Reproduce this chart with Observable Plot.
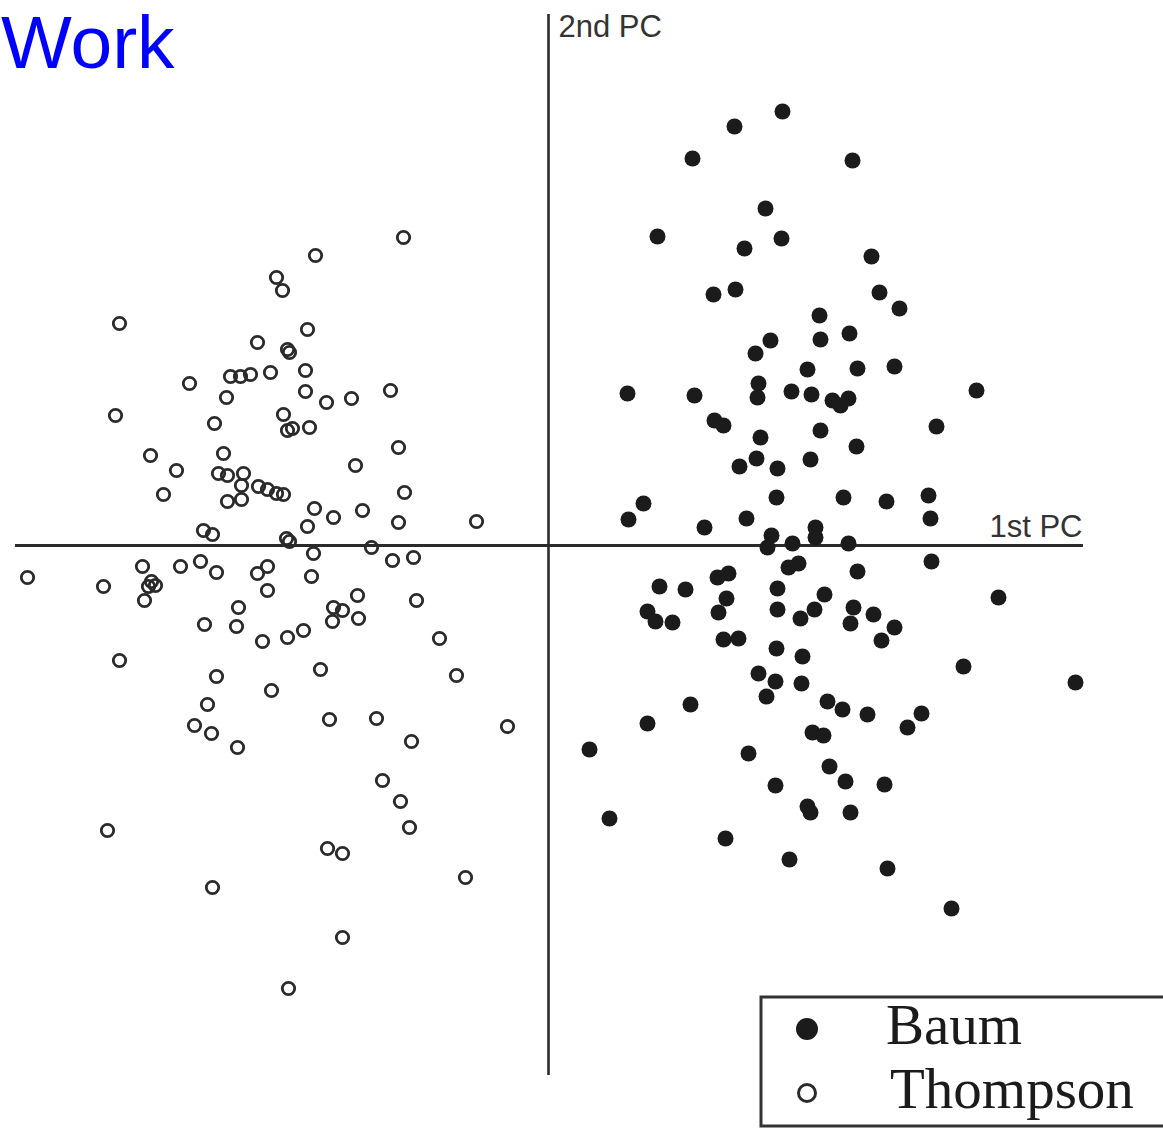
<!DOCTYPE html>
<html>
<head>
<meta charset="utf-8">
<script src="https://cdn.jsdelivr.net/npm/d3@7"></script>
<script src="https://cdn.jsdelivr.net/npm/@observablehq/plot@0.6"></script>
<style>
  html, body { margin: 0; padding: 0; background: #fff; overflow: hidden; }
  #wrap { position: relative; width: 1163px; height: 1128px; }
  #wrap > svg { position: absolute; left: 0; top: 0; }
</style>
</head>
<body>
<div id="wrap"></div>
<script>
// Scores on the first two principal components, one [PC1, PC2] pair per author sample.
const baum = [
  [2.34, 4.34], [1.86, 4.19], [1.44, 3.87], [3.04, 3.85], [2.17, 3.37], [1.09, 3.09],
  [2.33, 3.07], [1.96, 2.97], [3.23, 2.89], [1.65, 2.51], [1.87, 2.56], [3.31, 2.53],
  [3.51, 2.37], [2.71, 2.30], [2.22, 2.05], [2.07, 1.92], [2.72, 2.06], [3.01, 2.12],
  [2.59, 1.76], [3.09, 1.77], [3.46, 1.79], [0.79, 1.52], [1.46, 1.50], [2.10, 1.62],
  [2.09, 1.48], [2.43, 1.54], [2.63, 1.51], [2.84, 1.45], [2.92, 1.40], [3.00, 1.47],
  [4.28, 1.55], [1.66, 1.25], [1.75, 1.20], [2.12, 1.08], [2.72, 1.15], [3.88, 1.19],
  [3.08, 0.99], [1.91, 0.79], [2.08, 0.87], [2.29, 0.77], [2.62, 0.86], [0.95, 0.42],
  [0.80, 0.26], [1.56, 0.18], [1.98, 0.27], [2.28, 0.48], [2.95, 0.48], [3.38, 0.44],
  [3.80, 0.50], [3.82, 0.27], [2.23, 0.10], [2.19, -0.02], [2.44, 0.02], [2.67, 0.18],
  [2.67, 0.08], [3.00, 0.02], [3.83, -0.16], [2.50, -0.18], [2.40, -0.22], [3.09, -0.26],
  [1.69, -0.32], [1.80, -0.28], [1.11, -0.41], [1.37, -0.44], [1.78, -0.53], [2.29, -0.43],
  [2.76, -0.49], [4.50, -0.52], [1.70, -0.67], [0.99, -0.66], [1.07, -0.76], [1.24, -0.77],
  [2.29, -0.64], [2.52, -0.73], [2.66, -0.64], [3.05, -0.62], [3.02, -0.78], [3.25, -0.69],
  [3.46, -0.82], [3.33, -0.95], [1.75, -0.94], [1.90, -0.93], [2.28, -1.03], [2.54, -1.11],
  [2.10, -1.28], [2.27, -1.36], [2.53, -1.38], [2.18, -1.51], [4.15, -1.21], [5.27, -1.37],
  [1.42, -1.59], [0.99, -1.78], [2.79, -1.56], [2.94, -1.64], [3.19, -1.69], [3.73, -1.68],
  [3.59, -1.82], [2.64, -1.87], [2.75, -1.90], [0.41, -2.04], [2.00, -2.08], [2.81, -2.21],
  [2.97, -2.36], [2.27, -2.40], [3.36, -2.39], [2.59, -2.61], [2.62, -2.67], [3.02, -2.67],
  [0.61, -2.73], [1.77, -2.93], [2.41, -3.14], [3.39, -3.23], [4.03, -3.63]
];

const thompson = [
  [-1.45, 3.08], [-2.33, 2.90], [-2.72, 2.68], [-2.66, 2.55], [-4.29, 2.22], [-2.41, 2.16],
  [-2.91, 2.03], [-2.61, 1.96], [-2.59, 1.93], [-2.43, 1.75], [-2.78, 1.73], [-2.98, 1.71],
  [-3.08, 1.69], [-3.18, 1.69], [-3.59, 1.62], [-1.58, 1.55], [-2.43, 1.54], [-1.97, 1.47],
  [-3.22, 1.48], [-2.22, 1.43], [-4.33, 1.30], [-2.65, 1.31], [-3.34, 1.22], [-2.39, 1.18],
  [-2.61, 1.15], [-2.56, 1.17], [-1.50, 0.98], [-3.98, 0.90], [-3.25, 0.92], [-3.72, 0.75],
  [-1.93, 0.80], [-3.30, 0.72], [-3.21, 0.70], [-3.05, 0.72], [-3.07, 0.60], [-2.90, 0.59],
  [-2.81, 0.56], [-2.72, 0.52], [-2.65, 0.51], [-3.21, 0.44], [-3.07, 0.46], [-3.85, 0.51],
  [-1.44, 0.53], [-2.34, 0.37], [-1.86, 0.35], [-2.15, 0.28], [-2.41, 0.19], [-1.50, 0.23],
  [-0.72, 0.24], [-3.45, 0.15], [-3.36, 0.11], [-2.62, 0.07], [-2.59, 0.04], [-1.77, -0.02],
  [-2.35, -0.08], [-1.56, -0.15], [-1.35, -0.12], [-3.48, -0.16], [-3.68, -0.21], [-4.06, -0.21],
  [-3.32, -0.27], [-2.81, -0.21], [-2.91, -0.28], [-2.37, -0.31], [-5.21, -0.32], [-4.45, -0.41],
  [-3.97, -0.36], [-3.93, -0.40], [-4.00, -0.41], [-2.81, -0.45], [-4.04, -0.55], [-1.91, -0.50],
  [-1.32, -0.55], [-3.10, -0.62], [-2.15, -0.62], [-2.06, -0.65], [-2.16, -0.76], [-1.90, -0.73],
  [-3.44, -0.79], [-3.12, -0.81], [-2.45, -0.85], [-2.61, -0.92], [-2.86, -0.96], [-1.09, -0.93],
  [-4.29, -1.15], [-2.28, -1.24], [-3.32, -1.31], [-0.92, -1.30], [-2.77, -1.45], [-3.41, -1.59],
  [-3.54, -1.80], [-3.37, -1.88], [-2.19, -1.74], [-1.72, -1.73], [-0.41, -1.81], [-3.11, -2.02],
  [-1.37, -1.96], [-1.66, -2.35], [-1.48, -2.56], [-1.39, -2.82], [-4.41, -2.85], [-2.21, -3.03],
  [-2.06, -3.08], [-3.36, -3.42], [-0.83, -3.32], [-2.06, -3.92], [-2.60, -4.43]
];

const seriesNames = ["Baum", "Thompson"];
const axisNames = ["1st PC", "2nd PC"];

const W = 1163, H = 1128;
const ink = "#2a2a2a";

const chart = Plot.plot({
  width: W,
  height: H,
  margin: 0,
  style: { background: "#fff", overflow: "visible" },
  x: { domain: [-5.48, 6.15], axis: null },
  y: { domain: [-5.83, 5.45], axis: null },
  marks: [
    // crossing PC axes through the origin
    Plot.ruleY([0], { x1: -5.33, x2: 5.35, stroke: ink, strokeWidth: 3 }),
    Plot.ruleX([0], { y1: -5.30, y2: 5.31, stroke: ink, strokeWidth: 2.6 }),
    Plot.text([axisNames[0]], {
      x: 5.34, y: 0.09, text: d => d, textAnchor: "end", lineAnchor: "bottom",
      fontSize: 31, fontFamily: "Liberation Sans, Arial, sans-serif", fill: "#333",
      letterSpacing: "-1.5px"
    }),
    Plot.text([axisNames[1]], {
      x: 0.10, y: 5.09, text: d => d, textAnchor: "start", lineAnchor: "bottom",
      fontSize: 31, fontFamily: "Liberation Sans, Arial, sans-serif", fill: "#333",
      letterSpacing: "-1.5px"
    }),
    Plot.dot(thompson, {
      x: d => d[0], y: d => d[1], r: 6.2, fill: "none", stroke: ink, strokeWidth: 2.8
    }),
    Plot.dot(baum, {
      x: d => d[0], y: d => d[1], r: 8, fill: "#1b1b1b", stroke: "none"
    })
  ]
});

const wrap = document.getElementById("wrap");
wrap.appendChild(chart);

// Overlay: slide heading fragment and the boxed symbol legend
const over = d3.select(wrap).append("svg")
  .attr("width", W).attr("height", H)
  .style("pointer-events", "none");

over.append("text")
  .attr("x", 1).attr("y", 68)
  .attr("font-family", "Liberation Sans, Arial, sans-serif")
  .attr("font-size", 75)
  .attr("fill", "#0000ff")
  .text("Work");

const lg = over.append("g").attr("transform", "translate(761,997)");
lg.append("rect")
  .attr("x", 0).attr("y", 0).attr("width", 560).attr("height", 129)
  .attr("fill", "#fff").attr("stroke", "#333").attr("stroke-width", 3);

seriesNames.forEach((name, i) => {
  const cy = 32 + i * 64;
  if (i === 0) {
    lg.append("circle").attr("cx", 46).attr("cy", cy).attr("r", 11).attr("fill", "#1b1b1b");
  } else {
    lg.append("circle").attr("cx", 46).attr("cy", cy).attr("r", 8.5)
      .attr("fill", "none").attr("stroke", ink).attr("stroke-width", 3);
  }
  lg.append("text")
    .attr("x", i === 0 ? 125 : 129).attr("y", cy + 15)
    .attr("font-family", "Liberation Serif, Times New Roman, serif")
    .attr("font-size", 57)
    .attr("fill", "#1b1b1b")
    .text(name);
});
</script>
</body>
</html>
